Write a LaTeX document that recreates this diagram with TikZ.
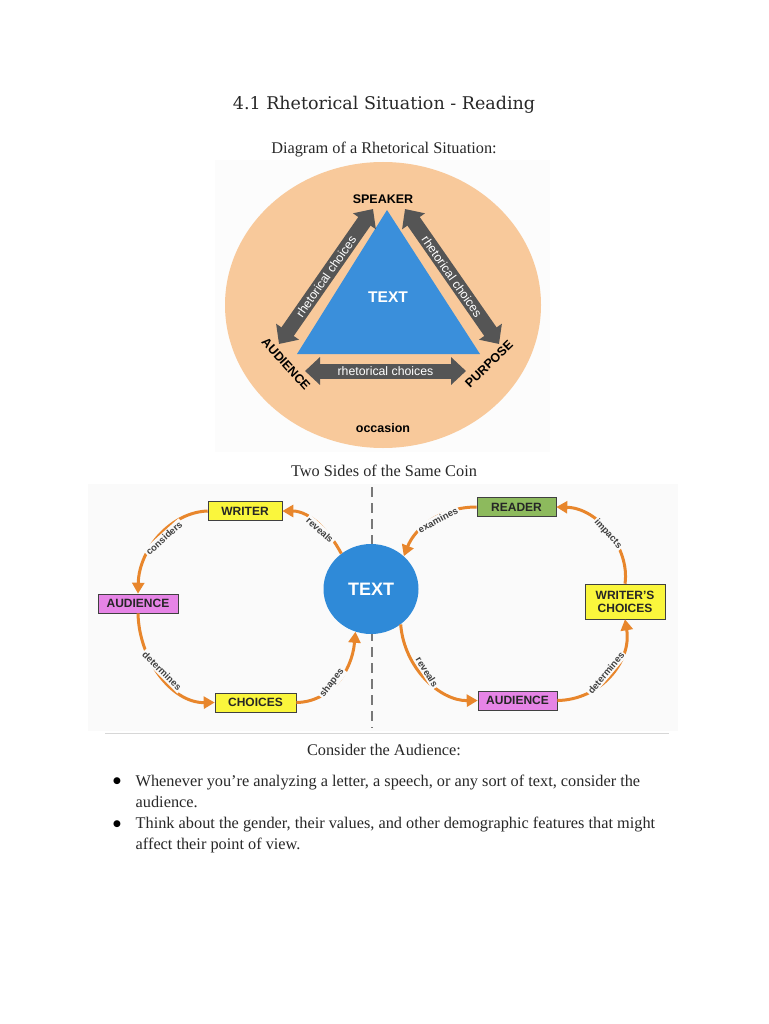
\documentclass[tikz,border=0pt]{standalone}
\usepackage{fontspec}
\setmainfont{Liberation Serif}
\setsansfont{Liberation Sans}
\newfontfamily\titlefont{DejaVu Serif}
\newfontfamily\symfont{DejaVu Sans}
\usetikzlibrary{arrows.meta,shapes.geometric}
\definecolor{peach}{RGB}{248,201,155}
\definecolor{triblue}{RGB}{58,143,219}
\definecolor{circblue}{RGB}{47,138,216}
\definecolor{arrgray}{RGB}{85,85,85}
\definecolor{orangearr}{RGB}{232,134,44}
\definecolor{boxyellow}{RGB}{250,246,60}
\definecolor{boxpink}{RGB}{230,132,230}
\definecolor{boxgreen}{RGB}{141,186,93}
\definecolor{coinbg}{RGB}{250,250,250}
\definecolor{imgbg}{RGB}{252,252,252}
\definecolor{textgray}{RGB}{40,40,40}
\definecolor{dashgray}{RGB}{120,120,120}
\definecolor{rulegray}{RGB}{215,215,215}
\tikzset{
  bodytext/.style={font=\fontsize{16.3}{19}\selectfont, text=textgray, inner sep=0pt},
  titletext/.style={font=\titlefont\fontsize{17.5}{21}\selectfont, text=textgray, inner sep=0pt},
  corner/.style={font=\sffamily\bfseries\fontsize{12.5}{14}\selectfont, text=black, inner sep=0pt},
  grayarrow/.style={draw=arrgray, line width=15pt, {Triangle[length=15pt,width=27pt]}-{Triangle[length=15pt,width=27pt]}},
  graylabel/.style={font=\sffamily\fontsize{12.3}{14}\selectfont, text=white, inner sep=0pt},
  coinbox/.style={draw=black!75, line width=0.6pt, font=\sffamily\bfseries\fontsize{12}{13}\selectfont, text=black!85, minimum height=19pt, inner sep=1pt, align=center},
  orarrow/.style={draw=orangearr, line width=3pt, -{Triangle[length=11pt,width=12pt]}},
  orlabel/.style={font=\sffamily\bfseries\fontsize{9.5}{11}\selectfont, text=black!75, fill=coinbg, inner sep=1.5pt},
}
\begin{document}
\begin{tikzpicture}[x=1pt,y=-1pt]
\path[use as bounding box, fill=white] (0,0) rectangle (768,1024);
% headings
\node[titletext, anchor=base] (title) at (384,110) {4.1 Rhetorical Situation - Reading};
\node[bodytext, anchor=base] (cap1) at (384,154) {Diagram of a Rhetorical Situation:};
% ---------- rhetorical triangle ----------
\fill[imgbg] (215,160) rectangle (550,452);
\fill[peach] (383,305) ellipse [x radius=158, y radius=143];
\coordinate (apex) at (387,210);
\coordinate (bl) at (297,354);
\coordinate (br) at (480,354);
\fill[triblue] (apex) -- (bl) -- (br) -- cycle;
\node[font=\sffamily\bfseries\fontsize{15.5}{17}\selectfont, text=white] (tritext) at (388,297) {TEXT};
\coordinate (la) at (279,344);
\coordinate (lb) at (373,209);
\coordinate (ra) at (405,209);
\coordinate (rb) at (499,344);
\coordinate (ba) at (305,371);
\coordinate (bb) at (466,371);
\draw[grayarrow] (la) -- node[graylabel, sloped] (l1) {rhetorical choices} (lb);
\draw[grayarrow] (ra) -- node[graylabel, sloped] (l2) {rhetorical choices} (rb);
\draw[grayarrow] (ba) -- node[graylabel] (l3) {rhetorical choices} (bb);
\node[corner] (speaker) at (383,199) {SPEAKER};
\node[corner, rotate=-48] (audience1) at (286,364) {AUDIENCE};
\node[corner, rotate=44] (purpose) at (489,364) {PURPOSE};
\node[corner] (occasion) at (383,428) {occasion};
% ---------- two sides of the same coin ----------
\node[bodytext, anchor=base] (cap2) at (384,476) {Two Sides of the Same Coin};
\fill[coinbg] (88,484) rectangle (678,731);
\coordinate (dtop) at (372,487);
\coordinate (dbot) at (372,728);
\draw[dashgray, line width=2pt, dash pattern=on 10pt off 6pt] (dtop) -- (dbot);
\node[ellipse, fill=circblue, minimum width=95pt, minimum height=90pt, inner sep=0pt,
      font=\sffamily\bfseries\fontsize{18}{20}\selectfont, text=white] (ctext) at (371,589) {TEXT};
\node[coinbox, fill=boxyellow, minimum width=74pt] (writer) at (245,511) {WRITER};
\node[coinbox, fill=boxpink, minimum width=80pt] (audL) at (138,603.5) {AUDIENCE};
\node[coinbox, fill=boxyellow, minimum width=81pt] (choices) at (255.5,702.5) {CHOICES};
\node[coinbox, fill=boxgreen, minimum width=79pt] (reader) at (516.5,507) {READER};
\node[coinbox, fill=boxyellow, minimum width=80pt, minimum height=35pt] (wchoices) at (625,601.5) {WRITER'S\\CHOICES};
\node[coinbox, fill=boxpink, minimum width=79pt] (audR) at (517.5,700.5) {AUDIENCE};
% left loop
\draw[orarrow] (writer.west) .. controls (172,512) and (139,548) .. (audL.north);
\node[orlabel, rotate=42] (t1) at (164,538) {considers};
\draw[orarrow] (audL.south) .. controls (139,660) and (172,703) .. (choices.west);
\node[orlabel, rotate=-45] (t2) at (162,671) {determines};
\draw[orarrow] (choices.east) .. controls (330,702) and (352,672) .. (ctext.250);
\node[orlabel, rotate=52] (t3) at (332,683) {shapes};
\draw[orarrow] (ctext.130) .. controls (330,532) and (310,511) .. (writer.east);
\node[orlabel, rotate=-42] (t4) at (320,530) {reveals};
% right loop
\draw[orarrow] (reader.west) .. controls (440,507) and (415,528) .. (ctext.45);
\node[orlabel, rotate=28] (t5) at (438,520) {examines};
\draw[orarrow] (wchoices.north) .. controls (630,548) and (598,508) .. (reader.east);
\node[orlabel, rotate=-48] (t6) at (608,534) {impacts};
\draw[orarrow] (ctext.-50) .. controls (404,668) and (440,701) .. (audR.west);
\node[orlabel, rotate=-58] (t7) at (427,672) {reveals};
\draw[orarrow] (audR.east) .. controls (600,700) and (632,662) .. (wchoices.south);
\node[orlabel, rotate=50] (t8) at (606,673) {determines};
% ---------- text ----------
\coordinate (r1) at (105,733);
\coordinate (r2) at (669,733);
\draw[rulegray, line width=0.8pt] (r1) -- (r2);
\node[bodytext, anchor=base] (cap3) at (384,755.5) {Consider the Audience:};
\node[font=\symfont\fontsize{9}{10}\selectfont, text=black, inner sep=0pt] (b1) at (117,781.5) {●};
\node[bodytext, anchor=base west] (p1) at (135.5,786) {Whenever you’re analyzing a letter, a speech, or any sort of text, consider the};
\node[bodytext, anchor=base west] (p2) at (135.5,807.5) {audience.};
\node[font=\symfont\fontsize{9}{10}\selectfont, text=black, inner sep=0pt] (b2) at (117,824) {●};
\node[bodytext, anchor=base west] (p3) at (135.5,828.5) {Think about the gender, their values, and other demographic features that might};
\node[bodytext, anchor=base west] (p4) at (135.5,849.5) {affect their point of view.};
\end{tikzpicture}
\end{document}
